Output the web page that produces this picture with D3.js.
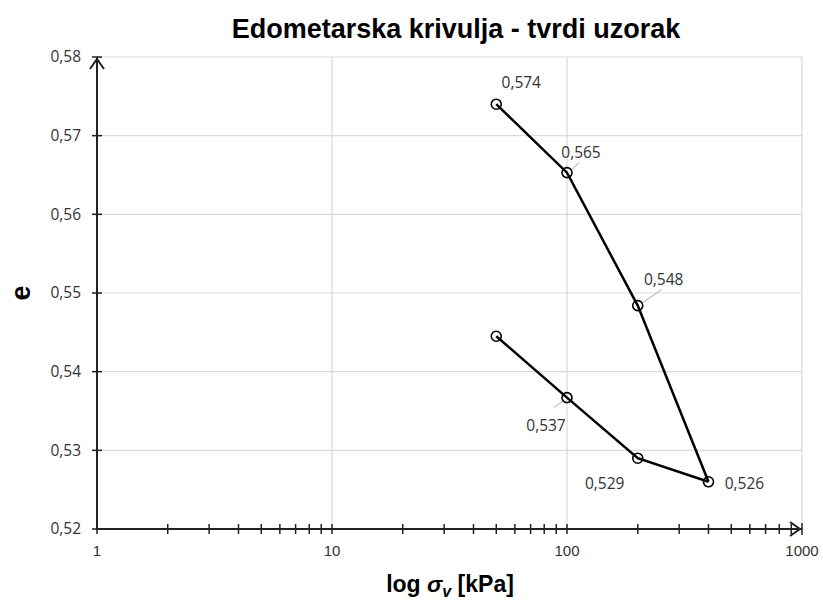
<!DOCTYPE html>
<html>
<head>
<meta charset="utf-8">
<script src="https://cdn.jsdelivr.net/npm/d3@7"></script>
<style>
  body { margin: 0; background: #fff; }
  svg { display: block; }
  .tick-y { font-family: "Open Sans", "Noto Sans", sans-serif; font-size: 15.5px; fill: #333; }
  .tick-x { font-family: "Liberation Sans", Arial, sans-serif; font-size: 15px; fill: #333; }
  .lbl { font-family: "Open Sans", "Noto Sans", sans-serif; font-size: 15.5px; fill: #333; }
</style>
</head>
<body>
<svg id="chart" width="823" height="601"></svg>
<script>
// values
var loads = [50, 100, 200, 400];
var eLoading = [0.574, 0.5653, 0.5484, 0.526];
var unloads = [400, 200, 100, 50];
var eUnloading = [0.526, 0.529, 0.5367, 0.5445];
var yTicks = [0.52, 0.53, 0.54, 0.55, 0.56, 0.57, 0.58];
var xTicks = [1, 10, 100, 1000];

// labels: which point, and offset of the text from the point
var labels = [
  {x: 50, e: 0.574, text: '0,574', dx: 25, dy: -22, lead: false},
  {x: 100, e: 0.5653, text: '0,565', dx: 14, dy: -20, lead: true},
  {x: 200, e: 0.5484, text: '0,548', dx: 26, dy: -26, lead: true},
  {x: 400, e: 0.526, text: '0,526', dx: 36, dy: 2, lead: false},
  {x: 200, e: 0.529, text: '0,529', dx: -33, dy: 25, lead: false},
  {x: 100, e: 0.5367, text: '0,537', dx: -21, dy: 28, lead: true}
];

var svg = d3.select('#chart');
var margin = {left: 97, right: 21, top: 57, bottom: 72};
var W = 823, H = 601;

var x = d3.scaleLog().domain([1, 1000]).range([margin.left, W - margin.right]);
var y = d3.scaleLinear().domain([0.52, 0.58]).range([H - margin.bottom, margin.top]);

var fmt = function(v) { return d3.format('.2f')(v).replace('.', ','); };

// grid
svg.append('g').selectAll('line.gy')
  .data(yTicks.slice(1))
  .enter().append('line')
  .attr('x1', x(1)).attr('x2', x(1000))
  .attr('y1', function(d) { return y(d); }).attr('y2', function(d) { return y(d); })
  .attr('stroke', '#d9d9d9').attr('stroke-width', 1.2);

svg.append('g').selectAll('line.gx')
  .data(xTicks.slice(1))
  .enter().append('line')
  .attr('x1', function(d) { return x(d); }).attr('x2', function(d) { return x(d); })
  .attr('y1', y(0.52)).attr('y2', y(0.58))
  .attr('stroke', '#d9d9d9').attr('stroke-width', 1.2);

// axes lines
var axisG = svg.append('g').attr('stroke', '#222').attr('stroke-width', 2).attr('fill', 'none');
axisG.append('line').attr('x1', x(1)).attr('x2', x(1000)).attr('y1', y(0.52)).attr('y2', y(0.52));
axisG.append('line').attr('x1', x(1)).attr('x2', x(1)).attr('y1', y(0.52)).attr('y2', y(0.58));
// arrowheads
axisG.append('path')
  .attr('d', 'M' + (x(1) - 7) + ',' + (y(0.58) + 12) + 'L' + x(1) + ',' + (y(0.58) + 2) + 'L' + (x(1) + 7) + ',' + (y(0.58) + 12));
axisG.append('path')
  .attr('d', 'M' + (x(1000) - 12) + ',' + (y(0.52) - 7) + 'L' + (x(1000) - 2) + ',' + y(0.52) + 'L' + (x(1000) - 12) + ',' + (y(0.52) + 7));
axisG.append('line').attr('x1', x(1000)).attr('x2', x(1000)).attr('y1', y(0.52) - 6).attr('y2', y(0.52) + 6)
  .attr('stroke-width', 1.5);

// y ticks
svg.append('g').selectAll('line')
  .data(yTicks)
  .enter().append('line')
  .attr('x1', x(1) - 5).attr('x2', x(1) + 5)
  .attr('y1', function(d) { return y(d); }).attr('y2', function(d) { return y(d); })
  .attr('stroke', '#222').attr('stroke-width', 1.5);

svg.append('g').selectAll('text')
  .data(yTicks)
  .enter().append('text')
  .attr('class', 'tick-y')
  .attr('x', x(1) - 16).attr('y', function(d) { return y(d); })
  .attr('dy', '0.35em').attr('text-anchor', 'end')
  .text(fmt);

// x minor/major ticks
var minor = [];
[1, 10, 100].forEach(function(dec) {
  for (var k = 1; k < 10; k++) minor.push(dec * k);
});
svg.append('g').selectAll('line')
  .data(minor)
  .enter().append('line')
  .attr('x1', function(d) { return x(d); }).attr('x2', function(d) { return x(d); })
  .attr('y1', y(0.52) - 5).attr('y2', y(0.52) + 5)
  .attr('stroke', '#222').attr('stroke-width', 1.5);

svg.append('g').selectAll('text')
  .data(xTicks)
  .enter().append('text')
  .attr('class', 'tick-x')
  .attr('x', function(d) { return x(d); }).attr('y', y(0.52) + 27)
  .attr('text-anchor', 'middle')
  .text(function(d) { return d; });

// series
var line = d3.line()
  .x(function(d) { return x(d[0]); })
  .y(function(d) { return y(d[1]); });

var loadPts = d3.zip(loads, eLoading);
var unloadPts = d3.zip(unloads, eUnloading);

[loadPts, unloadPts].forEach(function(pts) {
  svg.append('path')
    .datum(pts)
    .attr('d', line)
    .attr('fill', 'none')
    .attr('stroke', '#000')
    .attr('stroke-width', 2.5);
});

// leader lines
svg.append('g').selectAll('line')
  .data(labels.filter(function(d) { return d.lead; }))
  .enter().append('line')
  .attr('x1', function(d) { return x(d.x) + (d.dx > 0 ? 5 : -4); })
  .attr('y1', function(d) { return y(d.e) + (d.dy > 0 ? 3 : -3); })
  .attr('x2', function(d) { return x(d.x) + (d.dx > 0 ? d.dx - 2 : d.dx + 8); })
  .attr('y2', function(d) { return y(d.e) + (d.dy > 0 ? d.dy - 18 : d.dy + 10); })
  .attr('stroke', '#bfbfbf').attr('stroke-width', 1.2);

svg.append('g').selectAll('circle')
  .data(loadPts.concat(unloadPts.slice(1)))
  .enter().append('circle')
  .attr('cx', function(d) { return x(d[0]); })
  .attr('cy', function(d) { return y(d[1]); })
  .attr('r', 5)
  .attr('fill', 'none')
  .attr('stroke', '#000')
  .attr('stroke-width', 1.6);

svg.append('g').selectAll('text')
  .data(labels)
  .enter().append('text')
  .attr('class', 'lbl')
  .attr('x', function(d) { return x(d.x) + d.dx; })
  .attr('y', function(d) { return y(d.e) + d.dy; })
  .attr('dy', '0.35em')
  .attr('text-anchor', 'middle')
  .text(function(d) { return d.text; });

// titles
svg.append('text')
  .attr('x', 456).attr('y', 38)
  .attr('text-anchor', 'middle')
  .style('font-family', '"Liberation Sans", Arial, sans-serif')
  .style('font-weight', 'bold').style('font-size', '27px')
  .text('Edometarska krivulja - tvrdi uzorak');

var xt = svg.append('text')
  .attr('x', 450).attr('y', 592)
  .attr('text-anchor', 'middle')
  .style('font-family', '"Liberation Sans", Arial, sans-serif')
  .style('font-weight', 'bold').style('font-size', '23px');
xt.append('tspan').text('log ');
xt.append('tspan').style('font-style', 'italic').text('σ');
xt.append('tspan').style('font-style', 'italic').style('font-size', '16px').attr('dy', 5).text('v');
xt.append('tspan').attr('dy', -5).text(' [kPa]');

svg.append('text')
  .attr('transform', 'translate(30,' + y(0.55) + ') rotate(-90)')
  .attr('text-anchor', 'middle')
  .style('font-family', '"Liberation Sans", Arial, sans-serif')
  .style('font-weight', 'bold').style('font-size', '27px')
  .text('e');
</script>
</body>
</html>
